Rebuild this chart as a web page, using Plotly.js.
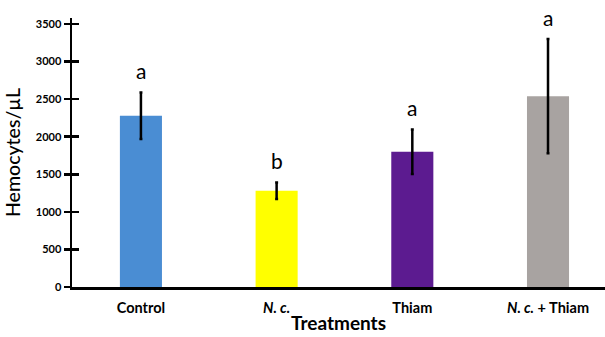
<!DOCTYPE html>
<html>
<head>
<meta charset="utf-8">
<script src="https://cdn.plot.ly/plotly-3.0.1.min.js"></script>
<style>html,body{margin:0;padding:0;background:#fff}#chart{width:605px;height:337px}</style>
</head>
<body>
<div id="chart"></div>
<script>
var categories = ['Control', 'N. c.', 'Thiam', 'N. c. + Thiam'];
var tickLabels = ['<b>Control</b>', '<b><i>N. c.</i></b>', '<b>Thiam</b>', '<b><i>N. c.</i> + Thiam</b>'];
var hemocytes = [2280, 1280, 1800, 2540];
var errors = [310, 110, 295, 760];
var letters = ['a', 'b', 'a', 'a'];
var barColors = ['#4a8dd3', '#ffff00', '#5c1b90', '#a8a3a1'];
var yTicks = [0, 500, 1000, 1500, 2000, 2500, 3000, 3500];

var font = 'Lato, "Open Sans", sans-serif';

var traces = [{
  type: 'bar',
  x: categories,
  y: hemocytes,
  width: 0.31,
  marker: {color: barColors, line: {width: 0}},
  error_y: {type: 'data', array: errors, visible: true, color: '#000', thickness: 2.5, width: 1.5},
  hoverinfo: 'none'
}, {
  type: 'scatter', x: [], y: [], yaxis: 'y2', hoverinfo: 'none', showlegend: false
}];

var annotations = categories.map(function (c, i) {
  return {
    x: c, y: hemocytes[i] + errors[i], xref: 'x', yref: 'y',
    text: letters[i], showarrow: false, yshift: 22,
    font: {family: font, size: 21, color: '#000'}
  };
});

var layout = {
  width: 605, height: 337,
  margin: {l: 72, r: 0, t: 18, b: 50},
  paper_bgcolor: '#fff', plot_bgcolor: '#fff',
  showlegend: false,
  xaxis: {
    type: 'category',
    categoryarray: categories,
    range: [-0.508, 3.42],
    tickvals: categories, ticktext: tickLabels,
    showline: true, linecolor: '#000', linewidth: 2.5,
    ticks: 'outside', ticklen: 6, tickcolor: 'rgba(0,0,0,0)',
    showgrid: false, zeroline: false,
    tickfont: {family: font, size: 14.5, color: '#000'},
    title: {text: '<b>Treatments</b>', font: {family: font, size: 19, color: '#000'}, standoff: 2}
  },
  yaxis: {
    range: [0, 3580],
    tickvals: yTicks,
    showline: true, linecolor: '#000', linewidth: 2.5,
    ticks: 'outside', ticklen: 6, tickwidth: 2.5, tickcolor: '#000',
    showgrid: false, zeroline: false,
    tickfont: {family: font, size: 11, color: '#000', weight: 'bold'},
    title: {text: 'Hemocytes/µL', font: {family: font, size: 19.5, color: '#000', weight: 500}, standoff: 10}
  },
  yaxis2: {
    overlaying: 'y', side: 'left', anchor: 'x',
    range: [0, 3580],
    tickvals: yTicks,
    showticklabels: false,
    ticks: 'inside', ticklen: 7, tickwidth: 2.5, tickcolor: '#000',
    showline: false, showgrid: false, zeroline: false
  },
  annotations: annotations
};

Plotly.newPlot('chart', traces, layout, {displayModeBar: false, staticPlot: true});
</script>
</body>
</html>
